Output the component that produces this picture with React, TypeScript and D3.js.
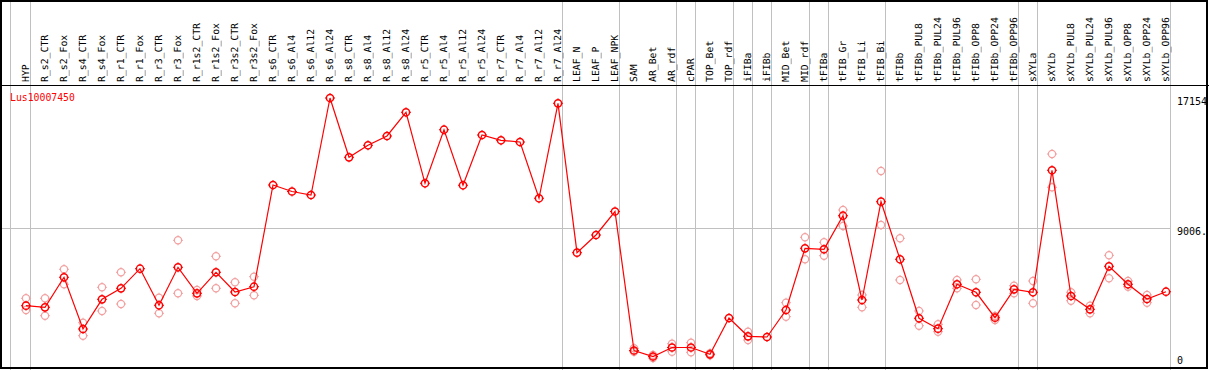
import React from "react";
import * as d3 from "d3";

const samples = [
  "HYP", "R_s2_CTR", "R_s2_Fox", "R_s4_CTR", "R_s4_Fox", "R_r1_CTR", "R_r1_Fox",
  "R_r3_CTR", "R_r3_Fox", "R_r1s2_CTR", "R_r1s2_Fox", "R_r3s2_CTR", "R_r3s2_Fox",
  "R_s6_CTR", "R_s6_Al4", "R_s6_Al12", "R_s6_Al24", "R_s8_CTR", "R_s8_Al4",
  "R_s8_Al12", "R_s8_Al24", "R_r5_CTR", "R_r5_Al4", "R_r5_Al12", "R_r5_Al24",
  "R_r7_CTR", "R_r7_Al4", "R_r7_Al12", "R_r7_Al24", "LEAF_N", "LEAF_P", "LEAF_NPK",
  "SAM", "AR_Bet", "AR_rdf", "cPAR", "TOP_Bet", "TOP_rdf", "iFIBa", "iFIBb",
  "MID_Bet", "MID_rdf", "tFIBa", "tFIB_Gr", "tFIB_Li", "tFIB_Bi", "tFIBb",
  "tFIBb_PUL8", "tFIBb_PUL24", "tFIBb_PUL96", "tFIBb_OPP8", "tFIBb_OPP24",
  "tFIBb_OPP96", "sXYLa", "sXYLb", "sXYLb_PUL8", "sXYLb_PUL24", "sXYLb_PUL96",
  "sXYLb_OPP8", "sXYLb_OPP24", "sXYLb_OPP96",
];

// mean expression per sample
const means = [
  4151, 4050, 5929, 2692, 4551, 5240, 6467, 4176, 6555, 4927, 6242, 5008, 5340,
  11707, 11300, 11081, 17154, 13441, 14193, 14775, 16259, 11814, 15169, 11689,
  14838, 14506, 14399, 10875, 16822, 7469, 8577, 10048,
  1346, 970, 1534, 1534, 1108, 3381, 2235, 2191, 3882, 7744, 7682, 9785, 4508,
  10662, 7056, 3362, 2711, 5491, 4990, 3399, 5177, 4990, 12628, 4758, 3925,
  6617, 5491, 4570, 5027,
];

// replicate values (null = not shown)
const repA: (number | null)[] = [
  4614, 4614, 6430, 3086, 5303, 6242, null, 4652, 8245, 5134, 7243, 5616, 5966,
  null, null, null, null, null, null, null, null, null, null, null, null, null,
  null, null, null, null, null, null,
  1484, 1064, 1772, 1834, 1171, null, 2523, null, 4338, 8433, 8120, 10142, 4821,
  12584, 8370, 3819, 2986, 5760, 5803, 3506, 5403, 5697, 13648, 4990, 4151,
  7306, 5697, 4821, null,
];
const repB: (number | null)[] = [
  3882, 3525, 5491, 2273, 3819, 4257, null, 3675, 4927, 4758, 5240, 4301, 4802,
  null, null, null, null, null, null, null, null, null, null, null, null, null,
  null, null, null, null, null, null,
  1271, 876, 1271, 1233, 1045, null, 2003, null, 3462, 7056, 7281, 9140, 4051,
  9203, 5760, 2899, 2523, 5240, 4195, 3255, 4927, 4301, 11563, 4464, 3675,
  5866, 5340, 4338, null,
];

// group separators: index of first sample of each group
const groupStarts = [0, 1, 29, 32, 35, 36, 38, 39, 40, 42, 43, 46, 53, 54];

const yTicks = [17154, 9006, 0];
const yTickLabels = ["17154", "9006.", "0"];
const title = "Lus10007450";

const W = 1209;
const H = 370;
const plotRight = 1170;
const headerBottom = 85;
const mono = "'DejaVu Sans Mono', monospace";

export default function App() {
  const x = d3.scaleBand<string>().domain(samples).range([11, plotRight]);
  const y = d3.scaleLinear().domain([0, 17154]).range([372, 98]);
  const px = (i: number) => (x(samples[i]) as number) + 15;

  const line = d3
    .line<number>()
    .x((_, i) => px(i))
    .y((d) => y(d));

  const reps: { i: number; v: number }[] = [];
  samples.forEach((_, i) => {
    if (repA[i] != null) reps.push({ i, v: repA[i] as number });
    if (repB[i] != null) reps.push({ i, v: repB[i] as number });
  });

  const marker = (cx: number, cy: number, color: string, sw: number) => (
    <g>
      <circle cx={cx} cy={cy} r={3.6} fill="none" stroke={color} strokeWidth={sw} />
      <path
        d={`M${cx},${cy - 5}V${cy - 3.6}M${cx},${cy + 3.6}V${cy + 5}M${cx - 5},${cy}H${cx - 3.6}M${cx + 3.6},${cy}H${cx + 5}`}
        stroke={color}
        strokeWidth={1}
      />
    </g>
  );

  return (
    <div style={{ position: "absolute", left: 0, top: 0 }}>
      <svg width={W} height={H} style={{ display: "block", background: "#fff" }}>
        {/* grid */}
        {groupStarts.map((g) => {
          const gx = Math.round(x(samples[g]) as number) - (g === 0 ? 1 : 0) + 0.5;
          return <line key={"g" + g} x1={gx} x2={gx} y1={0} y2={H} stroke="#c0c0c0" />;
        })}
        <line x1={plotRight + 0.5} x2={plotRight + 0.5} y1={0} y2={H} stroke="#c0c0c0" />
        <line x1={1} x2={plotRight} y1={Math.round(y(9006)) + 0.5} y2={Math.round(y(9006)) + 0.5} stroke="#c0c0c0" />

        {/* frame */}
        <rect x={1} y={1} width={W - 3} height={H - 3} fill="none" stroke="#000" strokeWidth={2} />
        <line x1={0} x2={W} y1={headerBottom + 0.5} y2={headerBottom + 0.5} stroke="#000" />

        {/* sample labels */}
        {samples.map((s) => (
          <text
            key={s}
            transform={`translate(${(x(s) as number) + 17.5},82) rotate(-90)`}
            fontFamily={mono}
            fontSize={9.8}
            textRendering="geometricPrecision"
            fill="#000"
          >
            {s}
          </text>
        ))}

        {/* y labels */}
        {yTicks.map((t, k) => (
          <text
            key={t}
            x={1177}
            y={Math.min(y(t), 357)}
            dominantBaseline="hanging"
            fontFamily={mono}
            fontSize={10}
            fill="#000"
          >
            {yTickLabels[k]}
          </text>
        ))}

        <text x={10} y={101} fontFamily={mono} fontSize={9.8} fill="#ff0000">
          {title}
        </text>

        {/* replicates */}
        {reps.map((r, k) => (
          <g key={"r" + k}>{marker(px(r.i), y(r.v), "#f2a0a0", 1.2)}</g>
        ))}

        {/* mean line */}
        <path d={line(means) as string} fill="none" stroke="#ff0000" strokeWidth={1.2} />
        {means.map((m, i) => (
          <g key={"m" + i}>{marker(px(i), y(m), "#ff0000", 1.5)}</g>
        ))}
      </svg>
    </div>
  );
}
